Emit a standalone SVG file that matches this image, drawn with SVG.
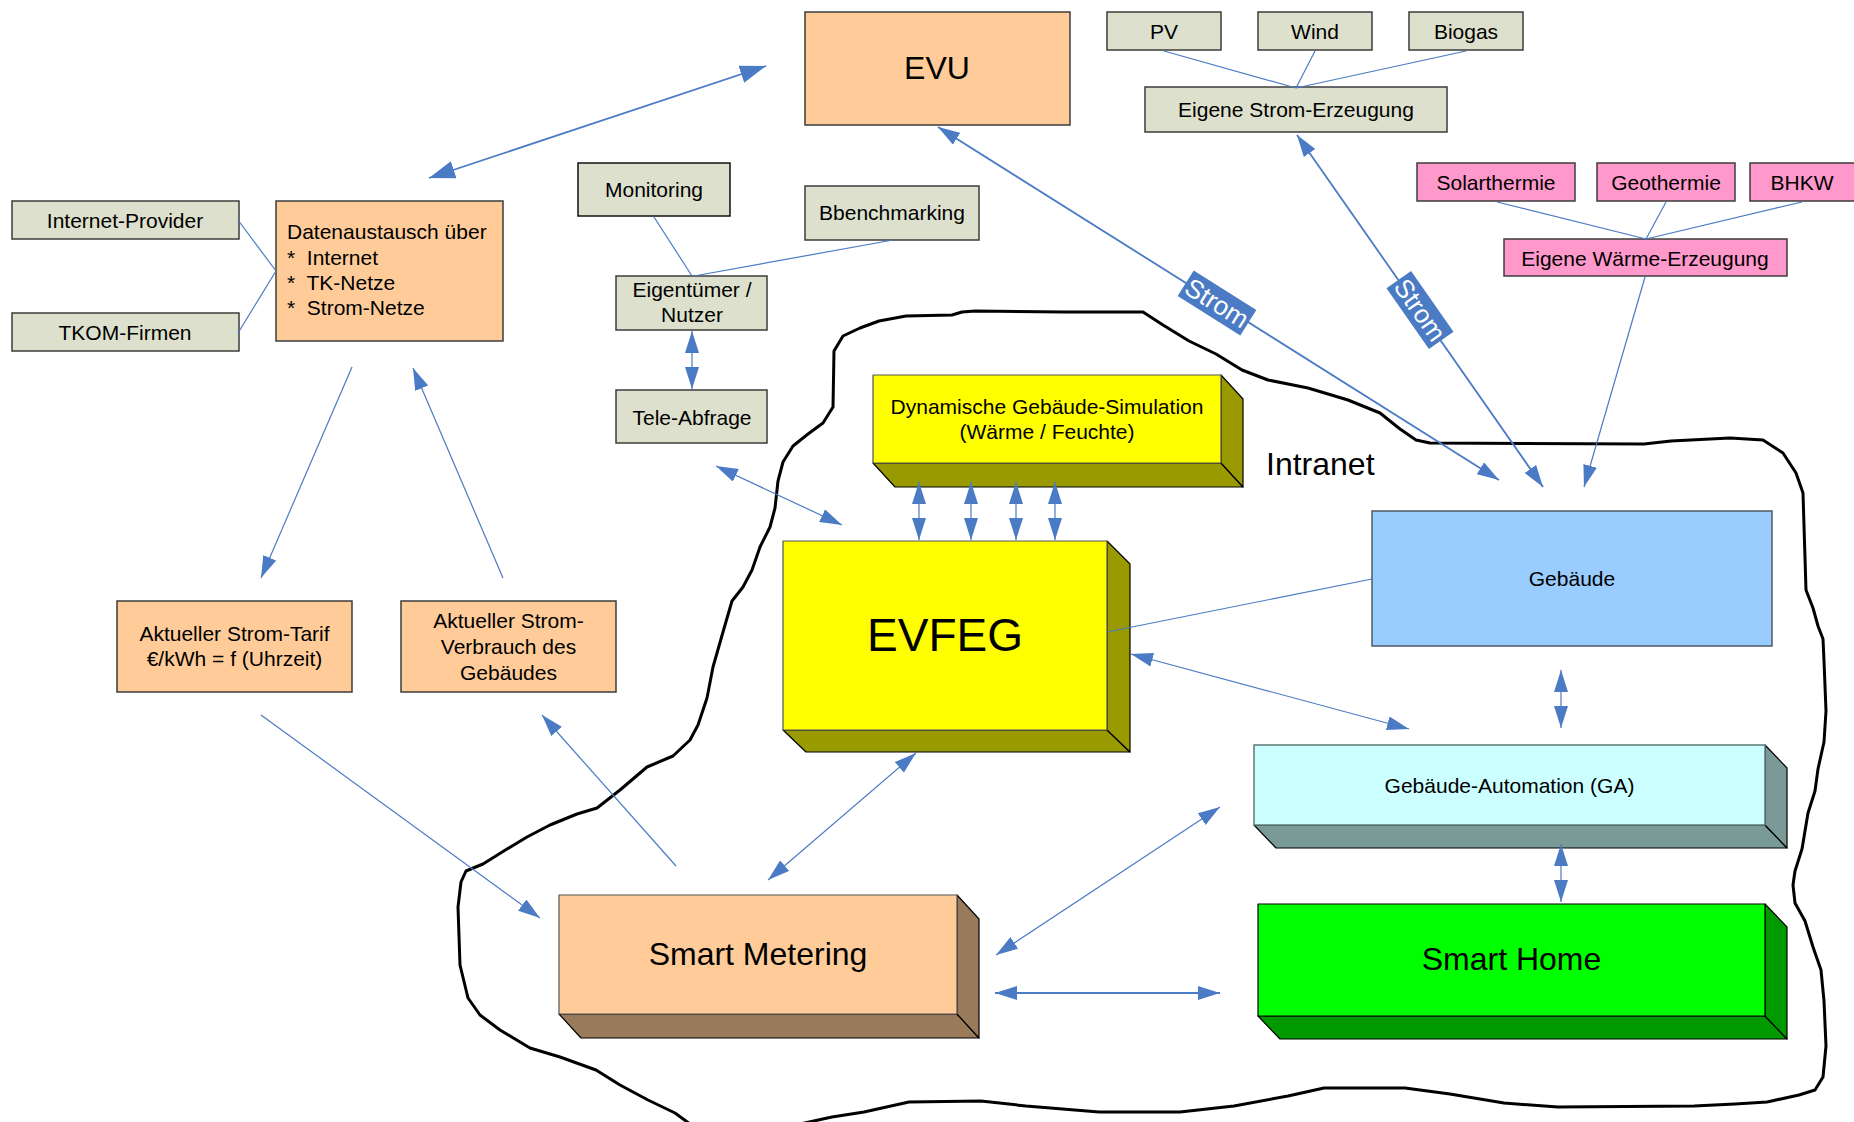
<svg xmlns="http://www.w3.org/2000/svg" width="1854" height="1122" viewBox="0 0 1854 1122">
<defs>
<style>
.bx{stroke:#3c3c3c;stroke-width:1.5}
.g{fill:#dde0cc}
.o{fill:#ffcc99}
.p{fill:#ff99cc}
.e{stroke:#000;stroke-width:1.2;stroke-linejoin:round}
.t{font-family:"Liberation Sans",Arial,sans-serif;font-size:21px;fill:#000;text-anchor:middle}
.big{font-size:32px}
.c{stroke:#4a7bc4;stroke-width:1.2;fill:none}
.cw{stroke:#4a7bc4;stroke-width:1.8;fill:none}
.lab{fill:#4a7bc4}
.lt{font-family:"Liberation Sans",Arial,sans-serif;font-size:26px;fill:#fff;text-anchor:middle}
</style>
<marker id="ah" viewBox="0 0 22 14" refX="22" refY="7" markerWidth="22" markerHeight="14" markerUnits="userSpaceOnUse" orient="auto-start-reverse"><path d="M0,0 L22,7 L0,14 z" fill="#4a7bc4"/></marker>
<marker id="ahL" viewBox="0 0 26 18" refX="26" refY="9" markerWidth="26" markerHeight="18" markerUnits="userSpaceOnUse" orient="auto-start-reverse"><path d="M0,0 L26,9 L0,18 z" fill="#4a7bc4"/></marker>
</defs>
<rect width="1854" height="1122" fill="#fff"/>

<g id="intranet">
<path fill="none" stroke="#000" stroke-width="3" stroke-linejoin="round" d="M833,407 L834,351 843,336 860,328 879,321 906,316 952,315 962,312 975,311 1064,312 1143,312 1163,325 1189,341 1216,354 1242,370 1268,380 1308,388 1348,400 1380,413 1400,429 1416,440 1430,443 1644,444 1671,441 1730,438 1763,440 1783,453 1796,473 1803,493 1806,590 1813,608 1818,626 1823,639 1824,661 1826,711 1824,742 1818,769 1815,791 1808,813 1802,849 1795,871 1793,885 1795,903 1805,921 1813,947 1821,970 1824,1001 1826,1046 1823,1077 1815,1090 1799,1095 1767,1102 1735,1104 1694,1106 1558,1107 1504,1103 1450,1094 1405,1088 1324,1088 1288,1096 1234,1106 1180,1112 1099,1112 1026,1106 981,1101 909,1102 864,1112 832,1117 800,1124 790,1140 700,1140 690,1124 675,1113 648,1100 620,1085 596,1070 560,1057 530,1048 500,1030 480,1015 468,998 460,965 458,907 461,882 466,871 483,864 507,849 527,837 550,825 577,814 597,808 620,790 647,767 673,756 690,740 698,725 707,698 713,667 723,632 732,601 743,587 752,570 760,547 770,527 775,508 778,481 783,462 793,446 808,434 823,423 Z"/>
<text class="t big" x="1266" y="475" style="text-anchor:start">Intranet</text>
</g>

<g id="evu"><rect class="bx o" x="805" y="12" width="265" height="113"/><text class="t big" x="937" y="79">EVU</text></g>
<g id="pv"><rect class="bx g" x="1107" y="12" width="114" height="38"/><text class="t" x="1164" y="38.5">PV</text></g>
<g id="wind"><rect class="bx g" x="1258" y="12" width="114" height="38"/><text class="t" x="1315" y="38.5">Wind</text></g>
<g id="biogas"><rect class="bx g" x="1409" y="12" width="114" height="38"/><text class="t" x="1466" y="38.5">Biogas</text></g>
<g id="strom-erzeugung"><rect class="bx g" x="1145" y="87" width="302" height="45"/><text class="t" x="1296" y="117">Eigene Strom-Erzeugung</text></g>
<g id="solarthermie"><rect class="bx p" x="1417" y="163" width="158" height="38"/><text class="t" x="1496" y="189.5">Solarthermie</text></g>
<g id="geothermie"><rect class="bx p" x="1597" y="163" width="138" height="38"/><text class="t" x="1666" y="189.5">Geothermie</text></g>
<g id="bhkw"><rect class="bx p" x="1750" y="163" width="110" height="38"/><text class="t" x="1802" y="189.5">BHKW</text></g>
<g id="waerme-erzeugung"><rect class="bx p" x="1504" y="239" width="283" height="37"/><text class="t" x="1645" y="265.5">Eigene Wärme-Erzeugung</text></g>
<g id="monitoring"><rect class="bx g" x="578" y="163" width="152" height="53" style="stroke:#111"/><text class="t" x="654" y="197">Monitoring</text></g>
<g id="benchmarking"><rect class="bx g" x="805" y="186" width="174" height="54"/><text class="t" x="892" y="220">Bbenchmarking</text></g>
<g id="eigentuemer"><rect class="bx g" x="616" y="276" width="151" height="54"/><text class="t" x="692" y="297">Eigentümer /</text><text class="t" x="692" y="322">Nutzer</text></g>
<g id="tele-abfrage"><rect class="bx g" x="616" y="390" width="151" height="53"/><text class="t" x="692" y="424.5">Tele-Abfrage</text></g>
<g id="internet-provider"><rect class="bx g" x="12" y="201" width="227" height="38"/><text class="t" x="125" y="227.5">Internet-Provider</text></g>
<g id="tkom"><rect class="bx g" x="12" y="313" width="227" height="38"/><text class="t" x="125" y="339.5">TKOM-Firmen</text></g>
<g id="datenaustausch"><rect class="bx o" x="276" y="201" width="227" height="140"/>
<text class="t" x="287" y="239" style="text-anchor:start;white-space:pre">Datenaustausch über</text>
<text class="t" x="287" y="265" style="text-anchor:start;white-space:pre">*  Internet</text>
<text class="t" x="287" y="290" style="text-anchor:start;white-space:pre">*  TK-Netze</text>
<text class="t" x="287" y="315" style="text-anchor:start;white-space:pre">*  Strom-Netze</text></g>
<g id="strom-tarif"><rect class="bx o" x="117" y="601" width="235" height="91"/><text class="t" x="234.5" y="641">Aktueller Strom-Tarif</text><text class="t" x="234.5" y="666">€/kWh = f (Uhrzeit)</text></g>
<g id="strom-verbrauch"><rect class="bx o" x="401" y="601" width="215" height="91"/><text class="t" x="508.5" y="628">Aktueller Strom-</text><text class="t" x="508.5" y="654">Verbrauch des</text><text class="t" x="508.5" y="680">Gebäudes</text></g>

<g id="simulation">
<polygon class="e" fill="#999900" points="873,463 1221,463 1243,487 895,487"/>
<polygon class="e" fill="#999900" points="1221,375 1243,399 1243,487 1221,463"/>
<rect class="e" fill="#ffff00" x="873" y="375" width="348" height="88" style="stroke:#555"/>
<text class="t" x="1047" y="414">Dynamische Gebäude-Simulation</text><text class="t" x="1047" y="439">(Wärme / Feuchte)</text></g>
<g id="evfeg">
<polygon class="e" fill="#999900" points="783,730 1107,730 1130,752 806,752"/>
<polygon class="e" fill="#999900" points="1107,541 1130,564 1130,752 1107,730"/>
<rect class="e" fill="#ffff00" x="783" y="541" width="324" height="189" style="stroke:#555"/>
<text class="t" x="945" y="651" style="font-size:46px">EVFEG</text></g>
<g id="gebaeude"><rect fill="#99ccff" stroke="#4d5a66" stroke-width="1.5" x="1372" y="511" width="400" height="135"/><text class="t" x="1572" y="585.5">Gebäude</text></g>
<g id="ga">
<polygon class="e" fill="#7a9a98" points="1254,825 1765,825 1787,848 1276,848"/>
<polygon class="e" fill="#7a9a98" points="1765,745 1787,768 1787,848 1765,825"/>
<rect fill="#ccffff" stroke="#5f7a78" stroke-width="1.5" x="1254" y="745" width="511" height="80"/>
<text class="t" x="1509.5" y="792.5">Gebäude-Automation (GA)</text></g>
<g id="smart-home">
<polygon class="e" fill="#009900" points="1258,1016 1765,1016 1787,1039 1280,1039"/>
<polygon class="e" fill="#009900" points="1765,904 1787,927 1787,1039 1765,1016"/>
<rect class="e" fill="#00ff00" x="1258" y="904" width="507" height="112"/>
<text class="t big" x="1511.5" y="970">Smart Home</text></g>
<g id="smart-metering">
<polygon class="e" fill="#997a5a" points="559,1014 957,1014 979,1038 581,1038"/>
<polygon class="e" fill="#997a5a" points="957,895 979,919 979,1038 957,1014"/>
<rect class="e" fill="#ffcc99" x="559" y="895" width="398" height="119" style="stroke:#555"/>
<text class="t big" x="758" y="965">Smart Metering</text></g>

<g id="connectors">
<line class="cw" x1="429" y1="178" x2="766" y2="66" marker-start="url(#ahL)" marker-end="url(#ahL)"/>
<line class="c" x1="238" y1="220" x2="276" y2="271"/>
<line class="c" x1="238" y1="333" x2="276" y2="271"/>
<line class="c" x1="654" y1="217" x2="692" y2="276"/>
<line class="c" x1="893" y1="240" x2="694" y2="276"/>
<line class="c" x1="1164" y1="51" x2="1296" y2="88"/>
<line class="c" x1="1315" y1="51" x2="1296" y2="88"/>
<line class="c" x1="1466" y1="51" x2="1296" y2="88"/>
<line class="c" x1="1497" y1="202" x2="1646" y2="239"/>
<line class="c" x1="1666" y1="202" x2="1646" y2="239"/>
<line class="c" x1="1802" y1="202" x2="1646" y2="239"/>
<line class="cw" x1="938" y1="127" x2="1499" y2="480" marker-start="url(#ah)" marker-end="url(#ah)"/>
<line class="cw" x1="1297" y1="135" x2="1543" y2="487" marker-start="url(#ah)" marker-end="url(#ah)"/>
<line class="c" x1="1645" y1="277" x2="1584" y2="487" marker-end="url(#ah)"/>
<line class="c" x1="692" y1="331" x2="692" y2="389" marker-start="url(#ah)" marker-end="url(#ah)"/>
<line class="c" x1="716" y1="466" x2="842" y2="525" marker-start="url(#ah)" marker-end="url(#ah)"/>
<line class="c" x1="919" y1="482" x2="919" y2="540" marker-start="url(#ah)" marker-end="url(#ah)"/>
<line class="c" x1="971" y1="482" x2="971" y2="540" marker-start="url(#ah)" marker-end="url(#ah)"/>
<line class="c" x1="1016" y1="482" x2="1016" y2="540" marker-start="url(#ah)" marker-end="url(#ah)"/>
<line class="c" x1="1055" y1="482" x2="1055" y2="540" marker-start="url(#ah)" marker-end="url(#ah)"/>
<line class="c" x1="352" y1="367" x2="261" y2="578" marker-end="url(#ah)"/>
<line class="c" x1="503" y1="578" x2="413" y2="368" marker-end="url(#ah)"/>
<line class="c" x1="261" y1="715" x2="540" y2="918" marker-end="url(#ah)"/>
<line class="c" x1="676" y1="866" x2="542" y2="715" marker-end="url(#ah)"/>
<line class="c" x1="916" y1="753" x2="768" y2="880" marker-start="url(#ah)" marker-end="url(#ah)"/>
<line class="c" x1="996" y1="955" x2="1220" y2="807" marker-start="url(#ah)" marker-end="url(#ah)"/>
<line class="cw" x1="995" y1="993" x2="1220" y2="993" marker-start="url(#ah)" marker-end="url(#ah)"/>
<line class="c" x1="1131" y1="654" x2="1409" y2="729" marker-start="url(#ah)" marker-end="url(#ah)"/>
<line class="c" x1="1107" y1="632" x2="1372" y2="579"/>
<line class="c" x1="1561" y1="670" x2="1561" y2="728" marker-start="url(#ah)" marker-end="url(#ah)"/>
<line class="c" x1="1561" y1="844" x2="1561" y2="902" marker-start="url(#ah)" marker-end="url(#ah)"/>
<g transform="translate(1217,303) rotate(32.2)"><rect class="lab" x="-37" y="-15" width="74" height="30"/><text class="lt" x="0" y="9">Strom</text></g>
<g transform="translate(1420,310) rotate(55)"><rect class="lab" x="-37" y="-15" width="74" height="30"/><text class="lt" x="0" y="9">Strom</text></g>
</g>
</svg>
